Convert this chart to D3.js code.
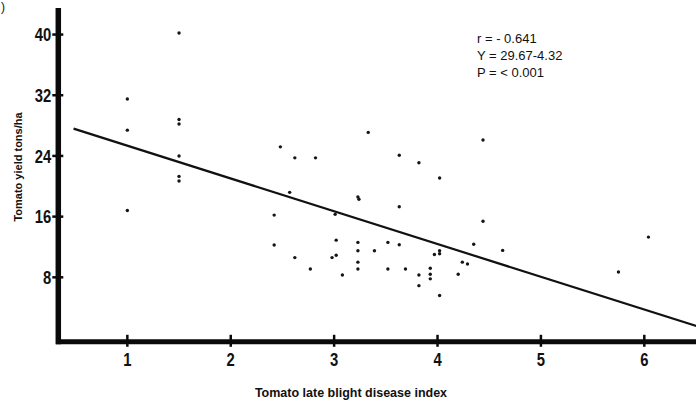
<!DOCTYPE html>
<html>
<head>
<meta charset="utf-8">
<script src="https://cdn.jsdelivr.net/npm/d3@7"></script>
<style>
  body { margin: 0; background: #fff; }
  svg { display: block; }
  .tick-label { font-family: "Liberation Sans", Arial, sans-serif; font-weight: bold; font-size: 19px; fill: #111; }
  .axis-title { font-family: "Liberation Sans", Arial, sans-serif; font-weight: bold; font-size: 11px; fill: #111; }
  .stats { font-family: "Liberation Sans", Arial, sans-serif; font-size: 13px; fill: #111; }
</style>
</head>
<body>
<div id="container"></div>
<script>
const width = 696,
  height = 402;

// tick values
const xTicks = [1, 2, 3, 4, 5, 6];
const yTicks = [8, 16, 24, 32, 40];

// disease index (x) and yield tons/ha (y)
const diseaseIndex = [1.5, 1.0, 1.5, 1.5, 1.0, 1.5, 1.5, 1.5, 1.0,
  3.33, 2.48, 2.62, 2.82, 3.63, 3.82, 4.02, 2.57, 3.23, 3.24, 3.63,
  2.42, 3.01, 2.42, 3.02, 3.23, 3.52, 3.63, 4.35, 2.62, 2.98,
  3.02, 3.23, 3.39, 3.97, 4.02, 4.02, 3.23, 3.23, 2.77, 3.52,
  3.69, 3.93, 3.93, 3.93, 4.24, 4.29, 3.08, 3.82, 4.20, 3.82,
  4.02, 4.44, 4.63, 5.75, 6.04, 4.44];
const tomatoYield = [40.2, 31.5, 28.8, 28.2, 27.4, 24.0, 21.3, 20.7, 16.8,
  27.1, 25.2, 23.75, 23.75, 24.1, 23.1, 21.1, 19.2, 18.6, 18.3, 17.3,
  16.2, 16.3, 12.25, 12.9, 12.6, 12.6, 12.3, 12.35, 10.6, 10.6,
  10.9, 11.5, 11.5, 11.0, 11.5, 11.1, 10.0, 9.1, 9.1, 9.1,
  9.1, 9.2, 8.4, 7.8, 10.0, 9.75, 8.3, 8.3, 8.4, 6.9,
  5.6, 15.4, 11.55, 8.7, 13.3, 26.1];

// fitted line Y = 29.67 - 4.32X, drawn over this x range
const fitIntercept = 29.67;
const fitSlope = -4.32;
const fitRange = [0.48, 6.6];

const statsLines = ["r = - 0.641", "Y = 29.67-4.32", "P = < 0.001"];

let svg, xScale, yScale;

function init() {
  xScale = d3.scaleLinear()
    .domain([0.31, 6.5])
    .range([56, 696]);

  yScale = d3.scaleLinear()
    .domain([-0.5, 43.5])
    .range([341.8, 8]);

  svg = d3.select("#container")
    .append("svg")
    .attr("width", width)
    .attr("height", height);

  // stray bracket from the scanned figure label
  svg.append("text")
    .attr("x", 1).attr("y", 11)
    .attr("class", "axis-title")
    .style("font-size", "12px")
    .style("font-weight", "normal")
    .text(")");

  // axes as thick lines
  svg.append("line")
    .attr("x1", 58.3).attr("x2", 58.3)
    .attr("y1", yScale(43.5)).attr("y2", yScale(-0.5) + 2.5)
    .attr("stroke", "#0a0a0a").attr("stroke-width", 5.5);

  svg.append("line")
    .attr("x1", 56).attr("x2", width)
    .attr("y1", yScale(-0.5)).attr("y2", yScale(-0.5))
    .attr("stroke", "#0a0a0a").attr("stroke-width", 5);

  // y ticks
  const yt = svg.selectAll("g.ytick")
    .data(yTicks)
    .join("g")
    .attr("class", "ytick")
    .attr("transform", d => `translate(58.3,${yScale(d)})`);
  yt.append("line")
    .attr("x1", -6).attr("x2", 5)
    .attr("stroke", "#0a0a0a").attr("stroke-width", 2.5);
  yt.append("text")
    .attr("class", "tick-label")
    .attr("transform", "translate(-7,0) scale(0.78,1)")
    .attr("dy", "0.36em")
    .attr("text-anchor", "end")
    .text(d => d);

  // x ticks
  const xt = svg.selectAll("g.xtick")
    .data(xTicks)
    .join("g")
    .attr("class", "xtick")
    .attr("transform", d => `translate(${xScale(d)},${yScale(-0.5)})`);
  xt.append("line")
    .attr("y1", -7).attr("y2", 5)
    .attr("stroke", "#0a0a0a").attr("stroke-width", 2.5);
  xt.append("text")
    .attr("class", "tick-label")
    .attr("transform", "translate(0,24) scale(0.78,1)")
    .attr("text-anchor", "middle")
    .text(d => d);

  // axis titles
  svg.append("text")
    .attr("class", "axis-title")
    .attr("transform", `translate(22,167) rotate(-90)`)
    .attr("text-anchor", "middle")
    .text("Tomato yield tons/ha");

  svg.append("text")
    .attr("class", "axis-title")
    .style("font-size", "12.5px")
    .attr("x", 351).attr("y", 397)
    .attr("text-anchor", "middle")
    .text("Tomato late blight disease index");

  // regression line
  const fitLine = d3.line()
    .x(d => xScale(d))
    .y(d => yScale(fitIntercept + fitSlope * d));

  svg.append("path")
    .datum(fitRange)
    .attr("d", fitLine)
    .attr("fill", "none")
    .attr("stroke", "#111")
    .attr("stroke-width", 2.2);

  // points
  svg.selectAll("circle.dot")
    .data(diseaseIndex.map((x, i) => ({x: x, y: tomatoYield[i]})))
    .join("circle")
    .attr("class", "dot")
    .attr("cx", d => xScale(d.x))
    .attr("cy", d => yScale(d.y))
    .attr("r", 1.7)
    .attr("fill", "#151515");

  // stats
  svg.selectAll("text.stats")
    .data(statsLines)
    .join("text")
    .attr("class", "stats")
    .attr("x", 477)
    .attr("y", (d, i) => 43 + i * 17)
    .text(d => d);
}

init();
</script>
</body>
</html>
